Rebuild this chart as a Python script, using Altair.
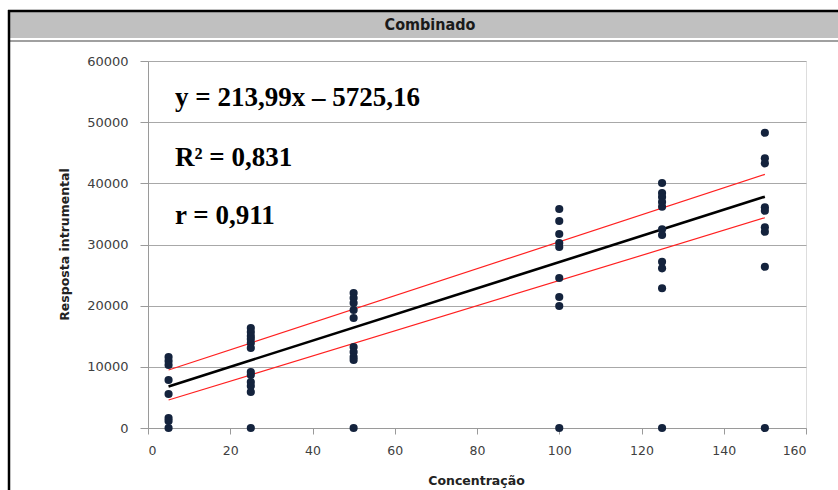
import altair as alt
import pandas as pd

# ---- data ----
conc_levels = [5, 25, 50, 100, 125, 150]
resp_5 = [11600, 10950, 10300, 7850, 5560, 1640, 1150, 0]
resp_25 = [16350, 15700, 15040, 14550, 13900, 13080, 9150, 8660, 7520, 6870, 5890, 0]
resp_50 = [22070, 21250, 20430, 19290, 17980, 13240, 12420, 11600, 11110, 0]
resp_100 = [35800, 33840, 31720, 30240, 29590, 24520, 21420, 19950, 0]
resp_125 = [40050, 38420, 37760, 36940, 36180, 32480, 31550, 27190, 26100, 22840, 0]
resp_150 = [48270, 44090, 43270, 36080, 35530, 32810, 32090, 26370, 0]

line_x = [5, 150]
fit_y = [6795, 37823]
upper_y = [9480, 41470]
lower_y = [4580, 34380]

title_text = "Combinado"
x_title = "Concentração"
y_title = "Resposta intrumental"
annotations = ["y = 213,99x – 5725,16", "R² = 0,831", "r = 0,911"]
x_ticks = [0, 20, 40, 60, 80, 100, 120, 140, 160]
y_ticks = [0, 10000, 20000, 30000, 40000, 50000, 60000]

# ---- tables ----
rows = []
for c, vals in zip(conc_levels, [resp_5, resp_25, resp_50, resp_100, resp_125, resp_150]):
    for v in vals:
        rows.append({"conc": c, "resp": v})
pts = pd.DataFrame(rows)
lines = pd.DataFrame({"conc": line_x, "fit": fit_y, "upper": upper_y, "lower": lower_y})
one = pd.DataFrame({"a": [0]})

W, H = 658, 367
xs = alt.Scale(domain=[0, 160], nice=False)
ys = alt.Scale(domain=[0, 60000], nice=False)

x_axis = alt.Axis(values=x_ticks, format="d", grid=False, tickSize=6, labelPadding=10,
                  domainColor="#9a9a9a", tickColor="#9a9a9a", labelColor="#404040",
                  labelFont="DejaVu Sans", labelFontSize=12.5,
                  title=x_title, titleFont="DejaVu Sans", titleFontSize=12.5,
                  titleFontWeight="bold", titleColor="#222222",
                  titleX=328, titleY=52, titleBaseline="middle", titleAnchor="middle")
y_axis = alt.Axis(values=y_ticks, format="d", grid=True, gridColor="#a8a8a8", gridWidth=1.2,
                  tickSize=8, labelPadding=12,
                  domainColor="#9a9a9a", tickColor="#9a9a9a", labelColor="#404040",
                  labelFont="DejaVu Sans", labelFontSize=13,
                  title=y_title, titleFont="DejaVu Sans", titleFontSize=12.5,
                  titleFontWeight="bold", titleColor="#222222",
                  titleX=-84, titleY=183, titleAngle=270, titleBaseline="middle",
                  titleAlign="center")

points = alt.Chart(pts).mark_circle(size=66, color="#14233d", opacity=1).encode(
    x=alt.X("conc:Q", scale=xs, axis=x_axis),
    y=alt.Y("resp:Q", scale=ys, axis=y_axis),
)

base_l = alt.Chart(lines)
upper = base_l.mark_line(color="#ff2020", strokeWidth=1.2).encode(
    x=alt.X("conc:Q", scale=xs), y=alt.Y("upper:Q", scale=ys))
lower = base_l.mark_line(color="#ff2020", strokeWidth=1.2).encode(
    x=alt.X("conc:Q", scale=xs), y=alt.Y("lower:Q", scale=ys))
fit = base_l.mark_line(color="#000000", strokeWidth=2.6).encode(
    x=alt.X("conc:Q", scale=xs), y=alt.Y("fit:Q", scale=ys))

# decorations: frame and title bar
bar = alt.Chart(one).mark_rect(color="#c0c0c0").encode(
    x=alt.value(-138), x2=alt.value(690), y=alt.value(-49), y2=alt.value(-23))
bar_line = alt.Chart(one).mark_rule(color="#a0a0a0", strokeWidth=2).encode(
    x=alt.value(-138), x2=alt.value(690), y=alt.value(-20))
top_border = alt.Chart(one).mark_rule(color="#000000", strokeWidth=2.5).encode(
    x=alt.value(-140), x2=alt.value(690), y=alt.value(-50))
left_border = alt.Chart(one).mark_rule(color="#000000", strokeWidth=2.5).encode(
    x=alt.value(-139), y=alt.value(-51), y2=alt.value(429))
title = alt.Chart(one).mark_text(
    text=title_text, font="DejaVu Sans Condensed, Liberation Sans, sans-serif",
    fontSize=16, fontWeight="bold",
    color="#1a1a1a", align="center", baseline="middle").encode(
    x=alt.value(282), y=alt.value(-36))

ann_layers = []
for txt, yy in zip(annotations, [37, 97, 155]):
    ann_layers.append(alt.Chart(one).mark_text(
        text=txt, font="Liberation Serif", fontSize=27, fontWeight="bold",
        color="#000000", align="left", baseline="middle").encode(
        x=alt.value(27), y=alt.value(yy)))

chart = alt.layer(
    bar, bar_line, top_border, left_border, title,
    upper, lower, fit, points, *ann_layers
).properties(
    width=W, height=H,
    autosize=alt.AutoSizeParams(type="none"),
    padding={"left": 148, "top": 61, "right": 32, "bottom": 62},
).configure_view(stroke=None).configure(background="white")

chart.save("out.html", embed_options={"renderer": "svg", "actions": False})
